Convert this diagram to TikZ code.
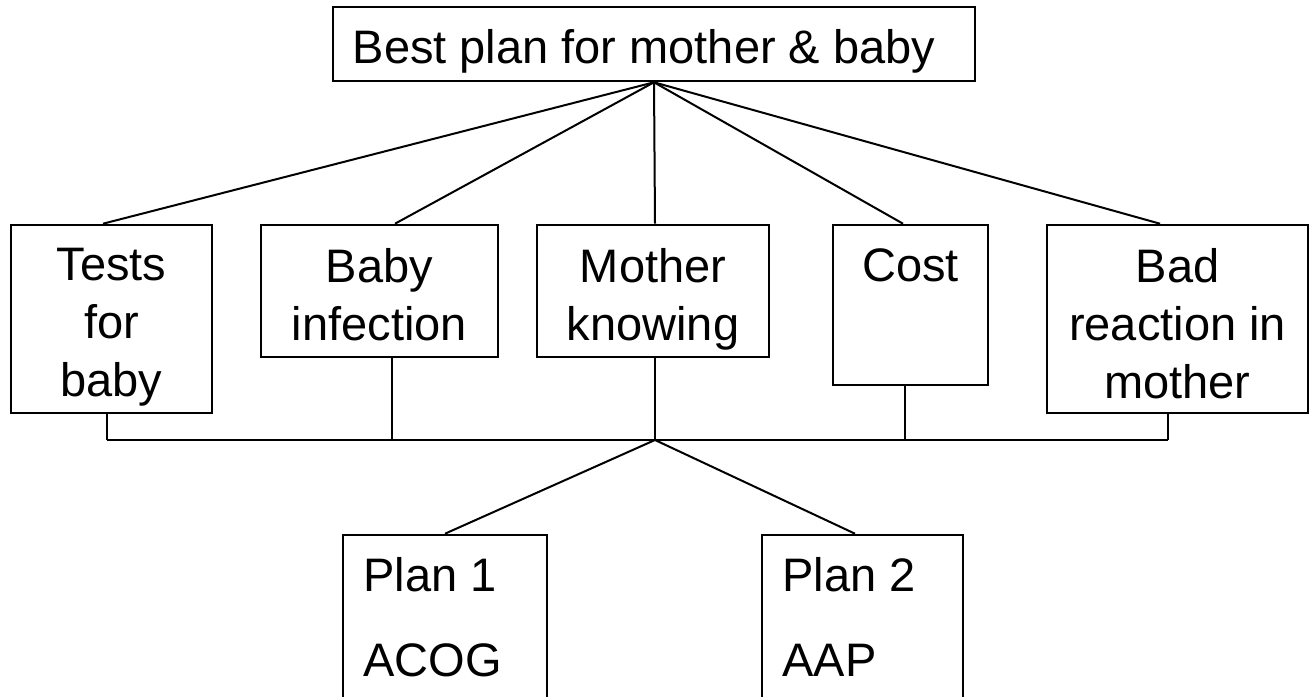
\documentclass[tikz,border=0pt]{standalone}
\usepackage{fontspec}
\setmainfont{Liberation Sans}
\begin{document}
\begin{tikzpicture}[x=0.5pt,y=-0.5pt,
  box/.style={draw, line width=1.3pt, inner sep=0pt, fill=white},
  conn/.style={line width=1pt},
  lbl/.style={font=\fontsize{23.5}{29}\selectfont, inner sep=0pt, align=center},
  plbl/.style={font=\fontsize{23.5}{29}\selectfont, inner sep=0pt, anchor=base west}]
\clip (0,0) rectangle (1316,696);
\fill[white] (0,0) rectangle (1316,696);

% boxes
\node[box, minimum width=321pt, minimum height=37pt] (top) at (654,44) {};
\node[box, minimum width=100.5pt, minimum height=94pt] (tests) at (111.5,319) {};
\node[box, minimum width=118.5pt, minimum height=66pt] (infection) at (379.5,291) {};
\node[box, minimum width=116pt, minimum height=66pt] (mother) at (653,291) {};
\node[box, minimum width=77.5pt, minimum height=80pt] (cost) at (910.5,305) {};
\node[box, minimum width=130.5pt, minimum height=94pt] (bad) at (1177.5,319) {};
\node[box, minimum width=102pt, minimum height=82.5pt] (plan1) at (445,617.5) {};
\node[box, minimum width=100.5pt, minimum height=82.5pt] (plan2) at (862.5,617.5) {};

% labels
\node[lbl, anchor=base] (ltop) at (644,63) {Best plan for mother \& baby};
\node[lbl, anchor=north] (ltests) at (111.5,248) {Tests\\for\\baby};
\node[lbl, anchor=north] (linf) at (379.5,248) {Baby\\infection};
\node[lbl, anchor=north] (lmot) at (653,248) {Mother\\knowing};
\node[lbl, anchor=north] (lcost) at (910.5,248) {Cost};
\node[lbl, anchor=north] (lbad) at (1177.5,248) {Bad\\reaction in\\mother};
\node[plbl] (lp1a) at (363,591) {Plan 1};
\node[plbl] (lp1b) at (363,676) {ACOG};
\node[plbl] (lp2a) at (782,591) {Plan 2};
\node[plbl] (lp2b) at (782,676) {AAP};

% connectors from top
\draw[conn] (top.south) -- ([xshift=-4.25pt]tests.north);
\draw[conn] (top.south) -- ([xshift=7.75pt]infection.north);
\draw[conn] (top.south) -- ([xshift=1pt]mother.north);
\draw[conn] (top.south) -- ([xshift=-3.75pt]cost.north);
\draw[conn] (top.south) -- ([xshift=-8.75pt]bad.north);

% bus
\coordinate (hub) at (655,440);
\coordinate (busL) at (107,440);
\coordinate (busR) at (1168,440);
\coordinate (bI) at (392,440);
\coordinate (bC) at (905,440);
\draw[conn] (busL) -- (busR);
\draw[conn] (busL) -- (busL |- tests.south);
\draw[conn] (bI) -- (bI |- infection.south);
\draw[conn] (hub) -- (hub |- mother.south);
\draw[conn] (bC) -- (bC |- cost.south);
\draw[conn] (busR) -- (busR |- bad.south);

% to plans
\draw[conn] (hub) -- (plan1.north);
\draw[conn] (hub) -- ([xshift=-3.75pt]plan2.north);
\end{tikzpicture}
\end{document}
